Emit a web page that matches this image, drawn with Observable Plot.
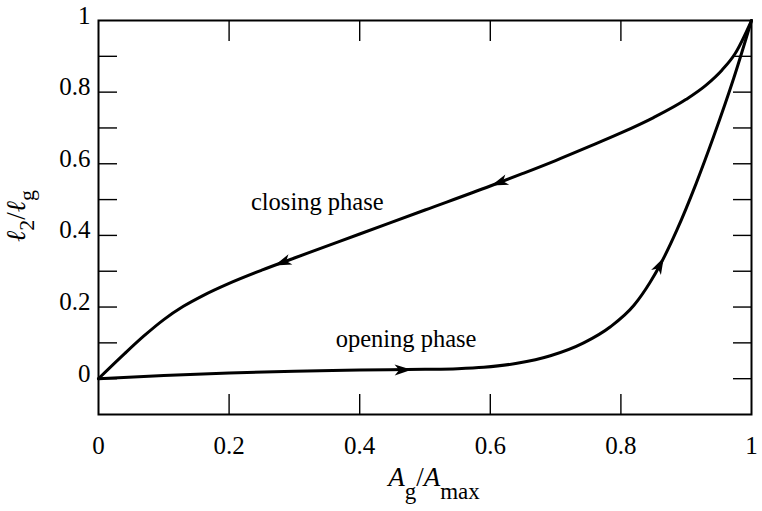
<!DOCTYPE html>
<html><head><meta charset="utf-8">
<script src="https://cdn.jsdelivr.net/npm/d3@7"></script>
<script src="https://cdn.jsdelivr.net/npm/@observablehq/plot@0.6"></script>
<style>html,body{margin:0;padding:0;background:#fff} svg{display:block}</style>
</head><body><div id="chart"></div>
<script>
// Opening phase curve (A_g/A_max, l2/lg)
const openingX = [0, 0.1, 0.2, 0.3, 0.4, 0.5, 0.55, 0.59, 0.641, 0.692, 0.743, 0.784, 0.82, 0.845, 0.861, 0.886, 0.915, 0.942, 0.973, 1.0];
const openingY = [0, 0.009, 0.016, 0.021, 0.024, 0.026, 0.028, 0.032, 0.043, 0.064, 0.1, 0.145, 0.205, 0.27, 0.321, 0.416, 0.544, 0.676, 0.84, 1.0];
// Closing phase curve
const closingX = [0, 0.04, 0.07, 0.1, 0.13, 0.16, 0.2, 0.25, 0.3, 0.4, 0.5, 0.6, 0.65, 0.7, 0.75, 0.8, 0.85, 0.9, 0.93, 0.955, 0.975, 1.0];
const closingY = [0, 0.07, 0.12, 0.165, 0.202, 0.232, 0.266, 0.303, 0.337, 0.404, 0.471, 0.538, 0.573, 0.609, 0.647, 0.686, 0.729, 0.78, 0.819, 0.862, 0.908, 1.0];
// Arrowheads: tip and a point behind it on the curve
const arrowTipX = [0.603, 0.271, 0.478, 0.865];
const arrowTipY = [0.54, 0.317, 0.025, 0.336];
const arrowTailX = [0.65, 0.31, 0.44, 0.852];
const arrowTailY = [0.572, 0.344, 0.024, 0.29];
// Tick values and labels
const xTickValues = [0, 0.2, 0.4, 0.6, 0.8, 1];
const xTickLabels = ["0", "0.2", "0.4", "0.6", "0.8", "1"];
const yTickValues = [0, 0.2, 0.4, 0.6, 0.8, 1];
const yTickLabels = ["0", "0.2", "0.4", "0.6", "0.8", "1"];
const yMinorTicks = [0, 0.1, 0.2, 0.3, 0.4, 0.5, 0.6, 0.7, 0.8, 0.9];
const xInnerTicks = [0.2, 0.4, 0.6, 0.8];
// Annotations
const phaseLabels = ["closing phase", "opening phase"];
const phaseX = [0.335, 0.471];
const phaseY = [0.494, 0.110];

const FONT = '"Liberation Serif","Times New Roman",Times,serif';
const base = {
  width: 762, height: 511,
  marginLeft: 98, marginRight: 11, marginTop: 20, marginBottom: 97,
  x: {domain: [0, 1]},
  y: {domain: [-0.1, 1]},
  style: {fontFamily: FONT, background: "white", color: "black", overflow: "visible"}
};

const opening = openingX.map((x, i) => ({x, y: openingY[i]}));
const closing = closingX.map((x, i) => ({x, y: closingY[i]}));

// first pass to get scales for arrow orientation
const probe = Plot.plot({...base, marks: [Plot.frame()]});
const sx = probe.scale("x"), sy = probe.scale("y");
const arrows = arrowTipX.map((x, i) => {
  const dx = sx.apply(x) - sx.apply(arrowTailX[i]);
  const dy = sy.apply(arrowTipY[i]) - sy.apply(arrowTailY[i]);
  return {x, y: arrowTipY[i], angle: Math.atan2(dx, -dy) * 180 / Math.PI};
});
const arrowHead = {
  draw(ctx) {
    ctx.moveTo(0, -1);
    ctx.lineTo(5.5, 16);
    ctx.lineTo(0, 11.5);
    ctx.lineTo(-5.5, 16);
    ctx.closePath();
  }
};
const blank = () => "";

const chart = Plot.plot({
  ...base,
  marks: [
    Plot.axisY(yMinorTicks, {anchor: "left", tickSize: 19, dx: 19, tickFormat: blank, label: null, strokeWidth: 1.4}),
    Plot.axisY(yMinorTicks, {anchor: "right", tickSize: 19, dx: -19, tickFormat: blank, label: null, strokeWidth: 1.4}),
    Plot.axisX(xInnerTicks, {anchor: "bottom", tickSize: 20, dy: -20, tickFormat: blank, label: null, strokeWidth: 1.4}),
    Plot.axisX(xInnerTicks, {anchor: "top", tickSize: 20, dy: 20, tickFormat: blank, label: null, strokeWidth: 1.4}),
    Plot.axisY(yTickValues, {anchor: "left", tickSize: 0, tickPadding: 8, dy: -5, fontSize: 25, label: null,
      tickFormat: d => yTickLabels[yTickValues.indexOf(d)]}),
    Plot.axisX(xTickValues, {anchor: "bottom", tickSize: 0, tickPadding: 22, fontSize: 25, label: null,
      tickFormat: d => xTickLabels[xTickValues.indexOf(d)]}),
    Plot.frame({stroke: "black", strokeWidth: 2}),
    Plot.line(opening, {x: "x", y: "y", curve: "monotone-x", stroke: "black", strokeWidth: 3}),
    Plot.line(closing, {x: "x", y: "y", curve: "monotone-x", stroke: "black", strokeWidth: 3}),
    Plot.dot(arrows, {x: "x", y: "y", rotate: "angle", symbol: arrowHead, fill: "black", stroke: "none", r: 5}),
    Plot.text(phaseLabels, {x: (d, i) => phaseX[i], y: (d, i) => phaseY[i], text: d => d, fontSize: 24.5, fill: "black", textAnchor: "middle"})
  ]
});

const svg = d3.select(chart);
// x axis title: A_g / A_max
const xt = svg.append("text").attr("x", 434).attr("y", 486).attr("text-anchor", "middle")
  .attr("font-family", FONT).attr("font-size", 27).attr("fill", "black");
xt.append("tspan").attr("font-style", "italic").text("A");
xt.append("tspan").attr("font-size", 23).attr("dy", 13).text("g");
xt.append("tspan").attr("dy", -13).text("/");
xt.append("tspan").attr("font-style", "italic").text("A");
xt.append("tspan").attr("font-size", 23).attr("dy", 13).text("max");
// y axis title: l2 / lg
const yt = svg.append("text").attr("transform", "translate(25,216) rotate(-90)").attr("text-anchor", "middle")
  .attr("font-family", FONT).attr("font-size", 27).attr("fill", "black");
yt.append("tspan").attr("font-style", "italic").text("ℓ");
yt.append("tspan").attr("font-size", 22).attr("dy", 9).text("2");
yt.append("tspan").attr("dy", -9).text("/");
yt.append("tspan").attr("font-style", "italic").text("ℓ");
yt.append("tspan").attr("font-size", 22).attr("dy", 9).text("g");

document.getElementById("chart").appendChild(chart);
</script>
</body></html>
